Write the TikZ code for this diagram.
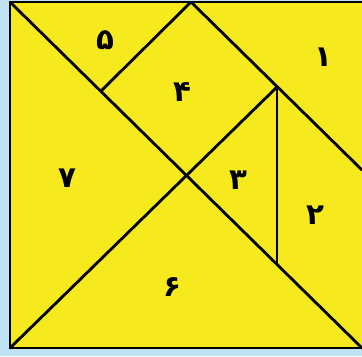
\documentclass[tikz,border=0pt]{standalone}
\usepackage{fontspec}
\usetikzlibrary{positioning}
\TeXXeTstate=1
\newfontfamily\arabicfont[Script=Arabic]{DejaVu Sans}
\definecolor{paper}{HTML}{F6EA1E}
\definecolor{sky}{HTML}{BDE3F4}

\begin{document}
\begin{tikzpicture}[x=0.03cm,y=-0.03cm,
  cut/.style={line width=2.4pt,line cap=round,line join=round},
  num/.style={font=\arabicfont\bfseries\fontsize{25}{27}\selectfont,inner sep=0pt}]
\fill[sky] (0,0) rectangle (362,356);
\useasboundingbox (0,0) rectangle (362,356);
\coordinate (tl) at (10,2);
\coordinate (tr) at (362,2);
\coordinate (bl) at (10,348);
\coordinate (br) at (362,348);
\coordinate (tm) at (191,2);
\coordinate (rm) at (362,170);
\coordinate (dq) at (101,91);
\coordinate (sq) at (277,87);
\coordinate (ctr) at (188,175);
\coordinate (vb) at (277,264);
\fill[paper] (tl) rectangle (br);
\draw[cut] (tr) -- (tl) -- (bl) -- (br);
\draw[cut] (tl) -- (br);
\draw[cut] (tm) -- (rm);
\draw[cut] (tm) -- (dq);
\draw[cut] (sq) -- (bl);
\draw[cut] (sq) -- (vb);
\node[num] (lblone) at (323,57) {\beginR ۱\endR};
\node[num] (lbltwo) at (315,215) {\beginR ۲\endR};
\node[num] (lblthree) at (238,180) {\beginR ۳\endR};
\node[num] (lblfour) at (182,92) {\beginR ۴\endR};
\node[num] (lblfive) at (105,40) {\beginR ۵\endR};
\node[num] (lblsix) at (172,287) {\beginR ۶\endR};
\node[num] (lblseven) at (67,178) {\beginR ۷\endR};
\end{tikzpicture}
\end{document}
